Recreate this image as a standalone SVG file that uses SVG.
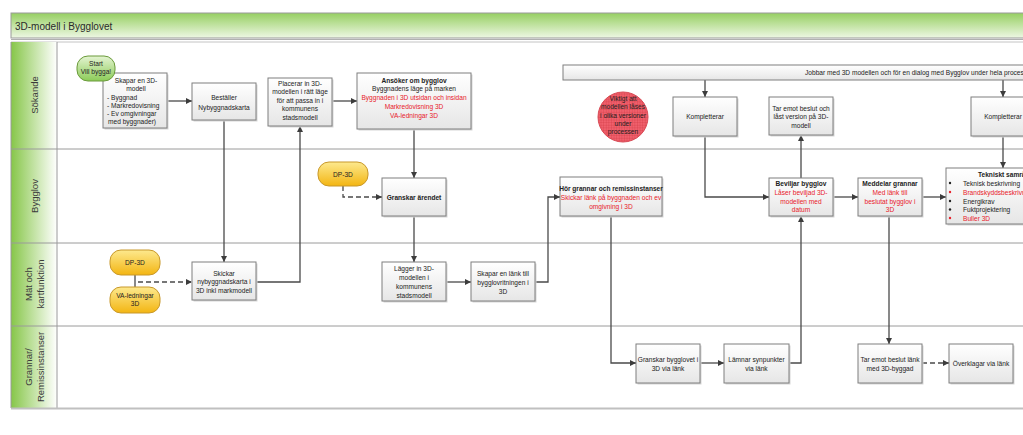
<svg xmlns="http://www.w3.org/2000/svg" width="1023" height="435" viewBox="0 0 1023 435">
<defs>
<linearGradient id="gTitle" x1="0" y1="0" x2="0" y2="1"><stop offset="0" stop-color="#96cf62"/><stop offset="1" stop-color="#eef7e4"/></linearGradient>
<linearGradient id="gHead" x1="0" y1="0" x2="1" y2="0"><stop offset="0" stop-color="#86c648"/><stop offset="1" stop-color="#ffffff"/></linearGradient>
<linearGradient id="gBox" x1="0" y1="0" x2="0" y2="1"><stop offset="0" stop-color="#ffffff"/><stop offset="1" stop-color="#e6e6e6"/></linearGradient>
<linearGradient id="gYel" x1="0" y1="0" x2="0" y2="1"><stop offset="0" stop-color="#fde98e"/><stop offset="1" stop-color="#f3b512"/></linearGradient>
<linearGradient id="gGreen" x1="0" y1="0" x2="0" y2="1"><stop offset="0" stop-color="#e4f4d2"/><stop offset="1" stop-color="#8ccb58"/></linearGradient>
<pattern id="grid" width="2.6" height="2.6" patternUnits="userSpaceOnUse"><rect width="2.6" height="2.6" fill="#f0606c"/><path d="M0 0H2.6M0 0V2.6" stroke="#c8303c" stroke-width="0.5"/></pattern>
<marker id="arr" viewBox="0 0 10 10" refX="10" refY="5" markerWidth="6" markerHeight="6" markerUnits="userSpaceOnUse" orient="auto"><path d="M0 0L10 5L0 10z" fill="#3c3c3c"/></marker>
</defs>
<style>
.box{fill:url(#gBox);stroke:#7f7f7f;stroke-width:1}
.sh{fill:#d6d6d6}
.t{font-family:"Liberation Sans",Arial,sans-serif;font-size:6.6px;fill:#222;text-anchor:middle}
.b{font-weight:bold}
.r{fill:#e8202a}
.l{text-anchor:start}
.con{fill:none;stroke:#4a4a4a;stroke-width:1.3}
.dash{stroke-dasharray:5 3}
.lane{stroke:#9a9a9a;stroke-width:1}
.hd{font-family:"Liberation Sans",Arial,sans-serif;font-size:9.5px;fill:#3a3a3a;text-anchor:middle}
.pillY{fill:url(#gYel);stroke:#c8982a;stroke-width:1}
</style>
<rect width="1023" height="435" fill="#ffffff"/>
<g id="frame">
<rect x="11" y="13" width="1020" height="25" fill="url(#gTitle)" stroke="#9a9a9a" stroke-width="1"/>
<text x="15" y="30" font-family="'Liberation Sans',Arial,sans-serif" font-size="10" fill="#2a2a2a">3D-modell i Bygglovet</text>
<line x1="11" y1="39.5" x2="1023" y2="39.5" stroke="#b0b0b0"/>
<line x1="11" y1="42" x2="1023" y2="42" stroke="#c4c4c4"/>
<rect x="11" y="42" width="46" height="366" fill="url(#gHead)"/>
<line x1="11" y1="42" x2="11" y2="408" class="lane"/>
<line x1="57" y1="42" x2="57" y2="408" class="lane"/>
<line x1="11" y1="149" x2="1023" y2="149" class="lane"/>
<line x1="11" y1="243" x2="1023" y2="243" class="lane"/>
<line x1="11" y1="326" x2="1023" y2="326" class="lane"/>
<line x1="11" y1="408.5" x2="1023" y2="408.5" stroke="#c0c0c0" stroke-width="2"/>
<text class="hd" transform="translate(38,95) rotate(-90)">Sökande</text>
<text class="hd" transform="translate(38,196) rotate(-90)">Bygglov</text>
<text class="hd" transform="translate(32,284) rotate(-90)">Mät och</text>
<text class="hd" transform="translate(44,284) rotate(-90)">kartfunktion</text>
<text class="hd" transform="translate(32,367) rotate(-90)">Grannar/</text>
<text class="hd" transform="translate(44,367) rotate(-90)">Remissinstanser</text>
</g>
<g id="connectors">
<path class="con" d="M167 101H192" marker-end="url(#arr)"/>
<path class="con" d="M332 101H357" marker-end="url(#arr)"/>
<path class="con" d="M224 120V262" marker-end="url(#arr)"/>
<path class="con" d="M256 282H300V126" marker-end="url(#arr)"/>
<path class="con" d="M414 129V178" marker-end="url(#arr)"/>
<path class="con dash" d="M343 186V197H382" marker-end="url(#arr)"/>
<path class="con" d="M414 216V262" marker-end="url(#arr)"/>
<path class="con" d="M446 282H471" marker-end="url(#arr)"/>
<path class="con" d="M535 282H548V197H560" marker-end="url(#arr)"/>
<path class="con" d="M611 216V363H636" marker-end="url(#arr)"/>
<path class="con" d="M700 363H724" marker-end="url(#arr)"/>
<path class="con" d="M789 363H801V216" marker-end="url(#arr)"/>
<path class="con" d="M705 80V97" marker-end="url(#arr)"/>
<path class="con" d="M705 136V197H769" marker-end="url(#arr)"/>
<path class="con" d="M801 178V135" marker-end="url(#arr)"/>
<path class="con" d="M833 197H858" marker-end="url(#arr)"/>
<path class="con" d="M922 197H946" marker-end="url(#arr)"/>
<path class="con" d="M889 216V344" marker-end="url(#arr)"/>
<path class="con dash" d="M922 363H949" marker-end="url(#arr)"/>
<path class="con" d="M1003 80V97" marker-end="url(#arr)"/>
<path class="con" d="M1003 136V168" marker-end="url(#arr)"/>
<path class="con" d="M135 275V287"/>
<path class="con dash" d="M138 282H192" marker-end="url(#arr)"/>
</g>
<g id="skapar3d">
<rect class="sh" x="104.5" y="74.5" width="64" height="55"/>
<rect class="box" x="103" y="73" width="64" height="55"/>
<text class="t" x="136" y="83">Skapar en 3D-</text>
<text class="t" x="136" y="91">modell</text>
<text class="t l" x="107" y="99.5">- Byggnad</text>
<text class="t l" x="107" y="107.5">- Markredovisning</text>
<text class="t l" x="107" y="115.5">- Ev  omgivningar</text>
<text class="t l" x="108" y="123.5">med byggnader)</text>
</g>
<g id="start">
<rect x="77" y="56" width="38" height="25" rx="11" fill="url(#gGreen)" stroke="#6a9a3a"/>
<text class="t" x="96" y="66">Start</text>
<text class="t" x="96" y="74">Vill bygga!</text>
</g>
<g id="bestaller">
<rect class="sh" x="193.5" y="84.5" width="64" height="37"/>
<rect class="box" x="192" y="83" width="64" height="37"/>
<text class="t" x="224" y="99.5">Beställer</text>
<text class="t" x="224" y="109.5">Nybyggnadskarta</text>
</g>
<g id="placerar">
<rect class="sh" x="269.5" y="79.5" width="64" height="48"/>
<rect class="box" x="268" y="78" width="64" height="48"/>
<text class="t" x="300" y="85.5">Placerar in 3D-</text>
<text class="t" x="300" y="94">modellen i rätt läge</text>
<text class="t" x="300" y="102.5">för att passa in i</text>
<text class="t" x="300" y="111">kommunens</text>
<text class="t" x="300" y="120">stadsmodell</text>
</g>
<g id="ansoker">
<rect class="sh" x="358.5" y="74.5" width="114" height="56"/>
<rect class="box" x="357" y="73" width="114" height="56"/>
<text class="t b" x="414" y="82.5">Ansöker om bygglov</text>
<text class="t" x="414" y="91">Byggnadens läge på marken</text>
<text class="t r" x="414" y="99.5">Byggnaden i 3D utsidan och insidan</text>
<text class="t r" x="414" y="108.5">Markredovisning 3D</text>
<text class="t r" x="414" y="117.5">VA-ledningar 3D</text>
</g>
<g id="viktigt">
<circle cx="623" cy="117" r="25" fill="url(#grid)" stroke="#d84a55" stroke-width="1"/>
<text class="t" x="623" y="101" fill="#4a0a0a">Viktigt att</text>
<text class="t" x="623" y="109" fill="#4a0a0a">modellen låses</text>
<text class="t" x="623" y="117.5" fill="#4a0a0a">i olika versioner</text>
<text class="t" x="623" y="126" fill="#4a0a0a">under</text>
<text class="t" x="623" y="134" fill="#4a0a0a">processen</text>
</g>
<g id="jobbar">
<rect class="box" x="563" y="65" width="470" height="15"/>
<text class="t l" x="805" y="75">Jobbar med 3D modellen och för en dialog med Bygglov under hela processen</text>
</g>
<g id="kompletterar1">
<rect class="sh" x="674.5" y="98.5" width="64" height="39"/>
<rect class="box" x="673" y="97" width="64" height="39"/>
<text class="t" x="705" y="119">Kompletterar</text>
</g>
<g id="taremot">
<rect class="sh" x="770.5" y="98.5" width="64" height="38"/>
<rect class="box" x="769" y="97" width="64" height="38"/>
<text class="t" x="801" y="110.5">Tar emot beslut och</text>
<text class="t" x="801" y="119">låst version på 3D-</text>
<text class="t" x="801" y="127.5">modell</text>
</g>
<g id="kompletterar2">
<rect class="sh" x="972.5" y="98.5" width="64" height="39"/>
<rect class="box" x="971" y="97" width="64" height="39"/>
<text class="t" x="1003" y="119">Kompletterar</text>
</g>
<g id="dp3d-bygglov">
<rect class="pillY" x="318" y="162" width="50" height="24" rx="11"/>
<text class="t" x="343" y="176.5">DP-3D</text>
</g>
<g id="granskar">
<rect class="sh" x="383.5" y="179.5" width="64" height="38"/>
<rect class="box" x="382" y="178" width="64" height="38"/>
<text class="t b" x="414" y="199.5">Granskar ärendet</text>
</g>
<g id="hor">
<rect class="sh" x="561.5" y="178.5" width="102" height="39"/>
<rect class="box" x="560" y="177" width="102" height="39"/>
<text class="t b" x="611" y="190.5">Hör grannar och remissinstanser</text>
<text class="t r" x="611" y="199.5">Skickar länk på byggnaden och ev</text>
<text class="t r" x="611" y="208.5">omgivning i 3D</text>
</g>
<g id="beviljar">
<rect class="sh" x="770.5" y="179.5" width="64" height="38"/>
<rect class="box" x="769" y="178" width="64" height="38"/>
<text class="t b" x="801" y="186">Beviljar bygglov</text>
<text class="t r" x="801" y="195">Låser beviljad 3D-</text>
<text class="t r" x="801" y="203.5">modellen med</text>
<text class="t r" x="801" y="212">datum</text>
</g>
<g id="meddelar">
<rect class="sh" x="859.5" y="179.5" width="64" height="38"/>
<rect class="box" x="858" y="178" width="64" height="38"/>
<text class="t b" x="890" y="186">Meddelar grannar</text>
<text class="t r" x="890" y="195">Med länk till</text>
<text class="t r" x="890" y="203.5">beslutat bygglov i</text>
<text class="t r" x="890" y="212">3D</text>
</g>
<g id="tekniskt">
<rect class="sh" x="947.5" y="169.5" width="110" height="56"/>
<rect class="box" x="946" y="168" width="110" height="56"/>
<text class="t b l" x="978" y="176.5">Tekniskt samråd</text>
<circle cx="950" cy="183" r="1.2" fill="#222"/>
<text class="t l" x="963" y="185.5">Teknisk beskrivning</text>
<circle cx="950" cy="192" r="1.2" fill="#e8202a"/>
<text class="t l r" x="963" y="194.5">Brandskyddsbeskrivning</text>
<circle cx="950" cy="201" r="1.2" fill="#222"/>
<text class="t l" x="963" y="203.5">Energikrav</text>
<circle cx="950" cy="209.5" r="1.2" fill="#222"/>
<text class="t l" x="963" y="212">Fuktprojektering</text>
<circle cx="950" cy="218" r="1.2" fill="#e8202a"/>
<text class="t l r" x="963" y="220.5">Buller 3D</text>
</g>
<g id="dp3d-mat">
<rect class="pillY" x="110" y="250" width="50" height="25" rx="11"/>
<text class="t" x="135" y="265">DP-3D</text>
</g>
<g id="va">
<rect class="pillY" x="110" y="287" width="50" height="26" rx="11"/>
<text class="t" x="135" y="297.5">VA-ledningar</text>
<text class="t" x="135" y="306">3D</text>
</g>
<g id="skickar">
<rect class="sh" x="193.5" y="263.5" width="64" height="38"/>
<rect class="box" x="192" y="262" width="64" height="38"/>
<text class="t" x="224" y="275.5">Skickar</text>
<text class="t" x="224" y="284">nybyggnadskarta i</text>
<text class="t" x="224" y="292.5">3D inkl markmodell</text>
</g>
<g id="lagger">
<rect class="sh" x="383.5" y="263.5" width="64" height="39"/>
<rect class="box" x="382" y="262" width="64" height="39"/>
<text class="t" x="414" y="270.5">Lägger in 3D-</text>
<text class="t" x="414" y="279.5">modellen i</text>
<text class="t" x="414" y="288.5">kommunens</text>
<text class="t" x="414" y="297.5">stadsmodell</text>
</g>
<g id="skaparlank">
<rect class="sh" x="472.5" y="263.5" width="64" height="39"/>
<rect class="box" x="471" y="262" width="64" height="39"/>
<text class="t" x="503" y="275.5">Skapar en länk till</text>
<text class="t" x="503" y="284.5">bygglovritningen i</text>
<text class="t" x="503" y="293.5">3D</text>
</g>
<g id="granskarbygglovet">
<rect class="sh" x="637.5" y="345.5" width="64" height="39"/>
<rect class="box" x="636" y="344" width="64" height="39"/>
<text class="t" x="668" y="362">Granskar bygglovet i</text>
<text class="t" x="668" y="370.5">3D via länk</text>
</g>
<g id="lamnar">
<rect class="sh" x="725.5" y="345.5" width="65" height="39"/>
<rect class="box" x="724" y="344" width="65" height="39"/>
<text class="t" x="756.5" y="362">Lämnar synpunkter</text>
<text class="t" x="756.5" y="370.5">via länk</text>
</g>
<g id="taremotlank">
<rect class="sh" x="859.5" y="345.5" width="64" height="39"/>
<rect class="box" x="858" y="344" width="64" height="39"/>
<text class="t" x="890" y="362">Tar emot beslut länk</text>
<text class="t" x="890" y="370.5">med 3D-byggad</text>
</g>
<g id="overklagar">
<rect class="sh" x="950.5" y="345.5" width="64" height="39"/>
<rect class="box" x="949" y="344" width="64" height="39"/>
<text class="t" x="981" y="366">Överklagar via länk</text>
</g>
</svg>
